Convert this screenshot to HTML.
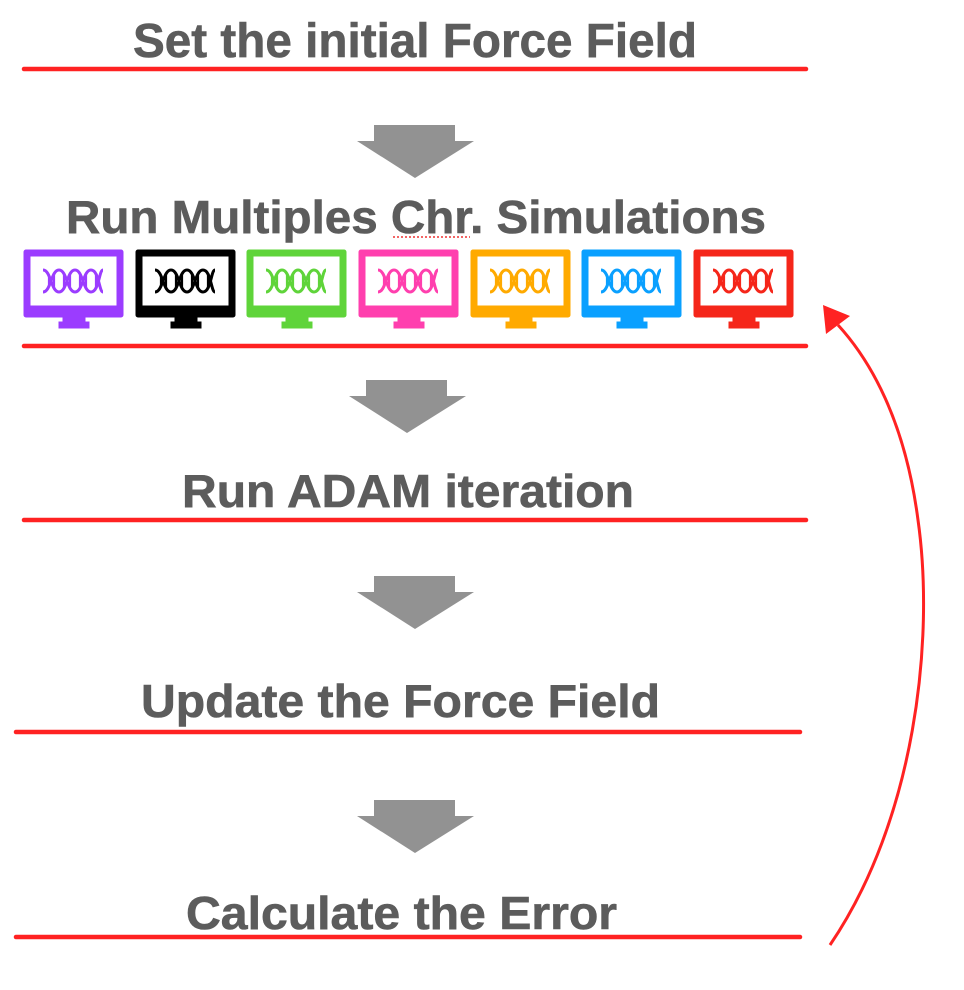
<!DOCTYPE html>
<html><head><meta charset="utf-8"><style>html,body{margin:0;padding:0;background:#fff}svg{display:block}</style></head>
<body>
<svg width="964" height="990" viewBox="0 0 964 990" xmlns="http://www.w3.org/2000/svg">
<defs>
<g id="arr"><path d="M17 0 H98 V16 H117 L58 53 L0 16 H17 Z" fill="#929292"/></g>
<g id="mon">
<rect x="0" y="0" width="99" height="67" rx="2"/>
<rect x="6" y="6" width="87" height="50" fill="#fff"/>
<rect x="39" y="66" width="22" height="6"/>
<rect x="35" y="72" width="30" height="6"/>
<g fill="none" stroke-width="3">
<path d="M19 20 C27 20 27 42 35 42 C43 42 43 20 51 20 C59 20 59 42 67 42 C75 42 75 20 79 20"/>
<path d="M19 42 C27 42 27 20 35 20 C43 20 43 42 51 42 C59 42 59 20 67 20 C75 20 75 42 79 42"/>
<path d="M25 25 V37 M30 23 V39 M40 23 V39 M46 25 V37 M56 25 V37 M62 23 V39 M72 23 V39" stroke-width="2.2"/>
</g>
</g>
</defs>
<g font-family="Liberation Sans, Arial, sans-serif" font-weight="bold" fill="#5c5c5c" font-size="48" stroke="#5c5c5c" stroke-width="0.6">
<text x="133" y="57" textLength="564" lengthAdjust="spacingAndGlyphs">Set the initial Force Field</text>
<text x="66" y="233" textLength="700" lengthAdjust="spacingAndGlyphs" font-size="46">Run Multiples Chr. Simulations</text>
<text x="182" y="507" textLength="452" lengthAdjust="spacingAndGlyphs" font-size="46">Run ADAM iteration</text>
<text x="141" y="717" textLength="519" lengthAdjust="spacingAndGlyphs" font-size="46">Update the Force Field</text>
<text x="186" y="929" textLength="431" lengthAdjust="spacingAndGlyphs" font-size="46">Calculate the Error</text>
</g>
<line x1="393" y1="237" x2="470" y2="237" stroke="#e33" stroke-width="1.5" stroke-dasharray="2,2"/>
<use href="#arr" x="357" y="125"/>
<use href="#arr" x="349" y="380"/>
<use href="#arr" x="357" y="576"/>
<use href="#arr" x="357" y="800"/>
<g stroke="#f22" stroke-width="4.5" stroke-linecap="round">
<line x1="24" y1="69" x2="806" y2="69"/>
<line x1="24" y1="346" x2="806" y2="346"/>
<line x1="24" y1="520" x2="806" y2="520"/>
<line x1="16" y1="732" x2="800" y2="732"/>
<line x1="16" y1="937" x2="800" y2="937"/>
</g>
<use href="#mon" x="24" y="250" fill="#9b3cff" stroke="#9b3cff"/>
<use href="#mon" x="136" y="250" fill="#000" stroke="#000"/>
<use href="#mon" x="247" y="250" fill="#5fd43a" stroke="#5fd43a"/>
<use href="#mon" x="359" y="250" fill="#ff3fae" stroke="#ff3fae"/>
<use href="#mon" x="471" y="250" fill="#ffaa00" stroke="#ffaa00"/>
<use href="#mon" x="582" y="250" fill="#0aa0ff" stroke="#0aa0ff"/>
<use href="#mon" x="694" y="250" fill="#f5261a" stroke="#f5261a"/>
<path d="M830 945 C915 820 935 640 918 520 C905 420 870 360 838 325" fill="none" stroke="#f22" stroke-width="3"/>
<path d="M823 305 L850 316 L826 334 Z" fill="#f22"/>
</svg>
</body></html>
